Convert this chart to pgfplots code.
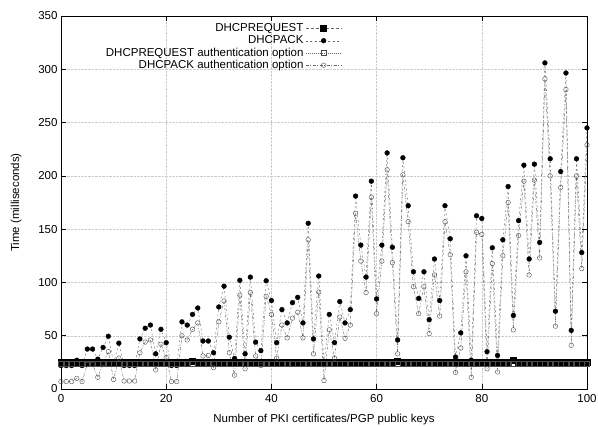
\documentclass[border=0pt]{standalone}
\usepackage{fontspec}
\setmainfont{Liberation Sans}
\usepackage{pgfplots}
\usepackage{pgfplotstable}
\pgfplotsset{compat=1.18}
\newcommand\ff{\fontsize{11.5}{13}\selectfont}

\pgfplotstableread{
x req ack reqa acka
0 25 22 24 7
1 25 22 24 7
2 25 22 24 7
3 25 27 24 10
4 25 22 24 7
5 25 37.5 24 23
6 25 37.5 24 23
7 25 28 24 11
8 25 39 24 24
9 25 49.5 24 35
10 25 24 24 9
11 25 43 24 29
12 25 22 24 7.5
13 25 22 24 7.5
14 25 22 24 7.5
15 25 47 24 34
16 25 57 24 44
17 25 60 24 46
18 25 33 24 18
19 25 56 24 42
20 25 43.5 24 29.5
21 25 22 24 7
22 25 22 24 7
23 25 63 24 50
24 25 60 24 46
25 26 70 24 56
26 25 76 24 62
27 25 45 24 31
28 25 45 24 31.5
29 25 34 24 20
30 25 77 24 63
31 25 96.5 24 82.6
32 25 48.6 24 34
33 25 28.7 24 13
34 25 102 24 88
35 25 33 24 19
36 25 105 24 90.5
37 25 44 24 31
38 25 36 24 22
39 25 101.6 24 87
40 25 83 24 70
41 25 43.5 24 29
42 25 74.5 24 60
43 25 62 24 48
44 25 81 24 66.5
45 25 86 24 72
46 25 62 24 48
47 25 155.5 24 140
48 25 47 24 33
49 25 106 24 91
50 25 23 24 8
51 25 70 24 55.5
52 25 43.5 24 29
53 25 82 24 67.5
54 25 62 24 47.6
55 25 74.5 24 60
56 25 181 24 165
57 25 135 24 120
58 25 105 24 90.5
59 25 195 24 180
60 25 84.5 24 70.7
61 25 135 24 120
62 25 221.5 24 205.7
63 25 133 24 118.6
64 26 46 24 33
65 25 217 24 201
66 25 172 24 157
67 25 110 24 96
68 25 85 24 70.7
69 25 110 24 96
70 25 65 24 52
71 25 122 24 107
72 25 83 24 68.5
73 25 172 24 157
74 25 141 24 126
75 25 30 24 15.5
76 25 52.7 24 38.5
77 25 125 24 110
78 25 27 24 11
79 25 162.5 24 147
80 25 160 24 145
81 25 35 24 19
82 25 132.5 24 117.7
83 25 31.5 24 16
84 25 140 24 125
85 25 190 24 175
86 27 69 24 55.5
87 25 158 24 144
88 25 210 24 195
89 25 122 24 107
90 25 211 24 196
91 25 137.5 24 123
92 25 306 24 291
93 25 216 24 200
94 25 73 24 59
95 25 204 24 189
96 25 296.5 24 281
97 25 55 24 41
98 25 216 24 200
99 25 128 24 113
100 25 245 24 229
}\data

\begin{document}
\begin{tikzpicture}
\begin{axis}[
 scale only axis, width=526pt, height=373pt,
 xmin=0, xmax=100, ymin=0, ymax=350,
 xtick={0,20,...,100}, ytick={0,50,...,350},
 grid=major, major grid style={densely dotted, gray!40, line width=0.4pt},
 tick align=inside, major tick length=5pt,
 tick style={black, line width=0.5pt},
 axis line style={line width=0.7pt},
 /pgf/number format/assume math mode=true,
 tick label style={font=\ff},
 xticklabel style={yshift=-2pt},
 label style={font=\ff},
 xlabel={Number of PKI certificates/PGP public keys},
 xlabel style={yshift=-5pt},
 ylabel={Time (milliseconds)},
 ylabel style={yshift=10pt},
 legend plot pos=right, legend cell align=right,
 legend style={draw=none, fill=none, at={(0.54,0.99)}, anchor=north east, font=\ff, row sep=-1.5pt},
 legend image code/.code={\draw[mark repeat=2,mark phase=2,#1] plot coordinates {(0pt,0pt) (18pt,0pt) (36pt,0pt)};},
]
\addplot[black!60, dash pattern=on 3pt off 2pt, line width=0.4pt, mark=square*, mark size=3pt, mark options={solid, fill=black, draw=black}] table[x=x,y=req]{\data};
\addlegendentry{DHCPREQUEST}
\addplot[black!60, dash pattern=on 2pt off 2.5pt, line width=0.4pt, mark=*, mark size=2.4pt, mark options={solid, fill=black, draw=black}] table[x=x,y=ack]{\data};
\addlegendentry{DHCPACK}
\addplot[black!60, dash pattern=on 1pt off 1pt, line width=0.4pt, mark=square, mark size=2.4pt, mark options={solid, draw=black!70}] table[x=x,y=reqa]{\data};
\addlegendentry{DHCPREQUEST authentication option}
\addplot[black!60, dash pattern=on 3pt off 1.5pt on 1pt off 1.5pt, line width=0.4pt, mark=o, mark size=2.3pt, mark options={solid, draw=black!70}] table[x=x,y=acka]{\data};
\addlegendentry{DHCPACK authentication option}
\end{axis}
\pgfresetboundingbox
\path[use as bounding box] (-61pt,-37pt) rectangle (537pt,389pt);
\end{tikzpicture}
\end{document}
